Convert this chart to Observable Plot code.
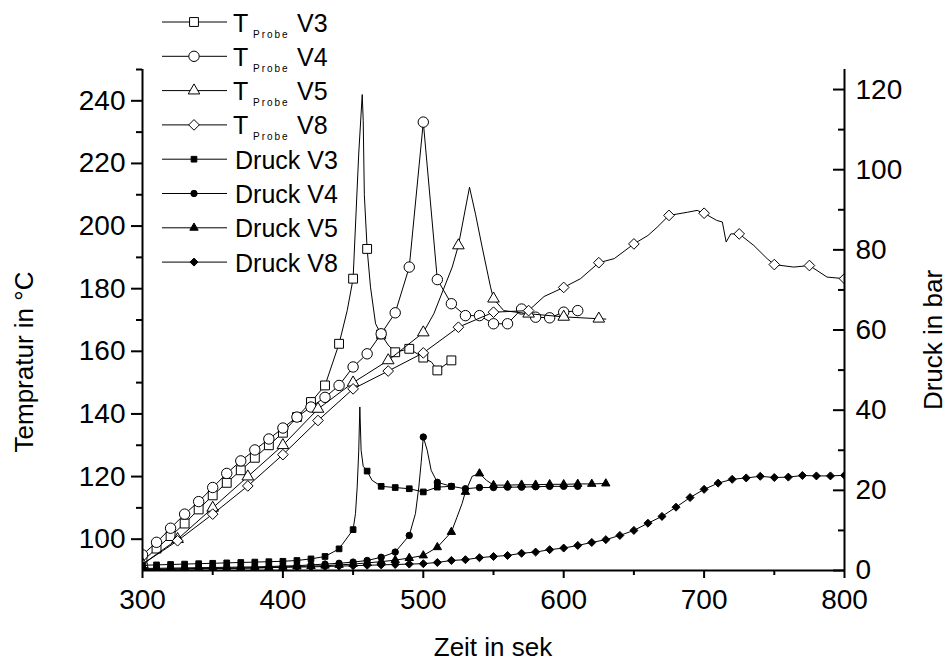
<!DOCTYPE html>
<html><head><meta charset="utf-8">
<script src="https://cdn.jsdelivr.net/npm/d3@7"></script>
<script src="https://cdn.jsdelivr.net/npm/@observablehq/plot@0.6"></script>
<style>
body{margin:0;background:#fff;}
#wrap{position:relative;width:950px;height:668px;font-family:"Liberation Sans",Arial,sans-serif;}
#wrap svg{position:absolute;left:0;top:0;}
</style></head><body><div id="wrap"></div>
<script>
// ---------- axes / tick data ----------
const T_MIN = 90, T_MAX = 250, P_MAX = 125;
const xMajor = [300, 400, 500, 600, 700, 800];
const xMinor = [350, 450, 550, 650, 750];
const tMajor = [100, 120, 140, 160, 180, 200, 220, 240];
const tMinor = [110, 130, 150, 170, 190, 210, 230, 250];
const pMajor = [0, 20, 40, 60, 80, 100, 120];
const pMinor = [10, 30, 50, 70, 90, 110];

// ---------- T Probe series (°C) ----------
const tV3Time = [300,310,320,330,340,350,360,370,380,390,400,410,420,430,440,450,460,470,480,490,500,510,520];
const tV3Val  = [93,97,101,105,109.5,114,118,122,126,130,134,139,143.8,149.1,162.4,183.2,192.7,165.4,159.7,160.8,158,153.9,157.1];
const tV3ExtraTime = [445.8,454,456.5,457.2,458,462.4,466,475,506,522.5];
const tV3ExtraVal  = [173,223,242,233.7,210,180.5,168.8,162,156.5,156.5];

const tV4Time = [300,310,320,330,340,350,360,370,380,390,400,410,420,430,440,450,460,470,480,490,500,510,520,530,540,550,560,570,580,590,600,610];
const tV4Val  = [95,99,103.5,108,112,116.5,121,125,128.5,132,135.5,139,142.2,145.3,149.1,155,159.2,165.6,172.3,186.9,233.2,182.9,175.2,171.4,171.4,168.8,168.8,173.5,170.9,170.7,172.5,173];
const tV4ExtraTime = [];
const tV4ExtraVal  = [];

const tV5Time = [300,325,350,375,400,425,450,475,500,525,550,575,600,625];
const tV5Val  = [92,100,110,120,130,141.6,150,157.1,166,193.8,176.8,172,171,170.4];
const tV5ExtraTime = [507.5,520.6,532.9,537.2,541.9,547.9,557.3,630];
const tV5ExtraVal  = [172,186.9,212.4,203.8,193.3,180.5,173,170.3];

const tV8Time = [300,325,350,375,400,425,450,475,500,525,550,575,600,625,650,675,700,725,750,775,800];
const tV8Val  = [92,99.5,108,117,127,137.9,148,153.7,159.5,167.7,172.5,173,180.4,188.3,194.3,203.4,204.1,197.5,187.7,187.4,183.2];
const tV8ExtraTime = [586,612,636,660,666.5,688,695,709,713,715.7,719,735.4,744.9,763.8,787.6];
const tV8ExtraVal  = [177.5,183.2,189.6,197,199.6,204.4,205,201.8,201.3,194.9,197.5,193.8,189.6,186.9,183.7];

// ---------- Druck series (bar) ----------
const pV3Time = [300,310,320,330,340,350,360,370,380,390,400,410,420,430,440,450,460,470,480,490,500,510,520];
const pV3Val  = [1.3,1.4,1.5,1.6,1.7,1.8,1.9,2.0,2.1,2.2,2.3,2.5,2.9,3.5,5.4,10.2,24.8,21,20.7,20.4,19.6,20.8,21];
const pV3ExtraTime = [451.7,452.9,454,454.8,455.7,457.2,463.5,522];
const pV3ExtraVal  = [14.2,20.8,29.6,40.8,30,26,22.5,21];

const pV4Time = [300,310,320,330,340,350,360,370,380,390,400,410,420,430,440,450,460,470,480,490,500,510,520,530,540,550,560,570,580,590,600,610];
const pV4Val  = [0.5,0.55,0.6,0.65,0.7,0.75,0.8,0.85,0.9,1.0,1.1,1.2,1.4,1.6,1.8,2.1,2.5,3.3,4.6,8.75,33.3,22,21,20.4,20.7,20.7,20.8,20.8,20.9,21,21,21];
const pV4ExtraTime = [494.4,496.8,498.5,502.8,505.6];
const pV4ExtraVal  = [14.2,20.8,27,30,25];

const pV5Time = [300,310,320,330,340,350,360,370,380,390,400,410,420,430,440,450,460,470,480,490,500,510,520,530,540,550,560,570,580,590,600,610,620,630];
const pV5Val  = [0.3,0.35,0.4,0.45,0.5,0.55,0.6,0.65,0.7,0.8,0.9,1.0,1.1,1.2,1.4,1.6,1.9,2.2,2.6,3.1,3.75,5.8,9.6,19.6,24.2,21.3,21.3,21.4,21.4,21.5,21.5,21.6,21.6,21.7];
const pV5ExtraTime = [524,527.6,534.8,545];
const pV5ExtraVal  = [13.3,16.7,23.5,22.5];

const pV8Time = [300,310,320,330,340,350,360,370,380,390,400,410,420,430,440,450,460,470,480,490,500,510,520,530,540,550,560,570,580,590,600,610,620,630,640,650,660,670,680,690,700,710,720,730,740,750,760,770,780,790,800];
const pV8Val  = [0.2,0.25,0.3,0.35,0.4,0.45,0.5,0.55,0.6,0.7,0.8,0.85,0.9,1.0,1.1,1.2,1.3,1.4,1.5,1.6,1.7,2.0,2.5,2.7,3.2,3.5,3.75,4.3,4.6,5.2,5.6,6.25,7.0,7.7,8.75,10,11.8,13.5,15.8,18.2,20.25,21.8,22.75,23.1,23.5,23.2,23.3,23.7,23.6,23.6,23.75];
const pV8ExtraTime = [];
const pV8ExtraVal  = [];

// ---------- legend labels ----------
const legendVersions = ["V3", "V4", "V5", "V8"];
const legendSub = "Probe";
const legendDruck = "Druck";

// ---------- build ----------
const K = (T_MAX - T_MIN) / P_MAX;           // °C per bar on the shared y scale
const toT = p => T_MIN + p * K;

function build(times, vals, exT, exV, conv) {
  const markers = times.map((t, i) => ({x: t, y: conv(vals[i])}));
  const extra = exT.map((t, i) => ({x: t, y: conv(exV[i])}));
  const line = markers.concat(extra).sort((a, b) => a.x - b.x);
  return {markers, line};
}
const id = v => v;
const series = [
  {...build(tV3Time, tV3Val, tV3ExtraTime, tV3ExtraVal, id), symbol: "square",   r: 5.0, fill: "white"},
  {...build(tV4Time, tV4Val, tV4ExtraTime, tV4ExtraVal, id), symbol: "circle",   r: 5.2, fill: "white"},
  {...build(tV5Time, tV5Val, tV5ExtraTime, tV5ExtraVal, id), symbol: "triangle", r: 4.3, fill: "white"},
  {...build(tV8Time, tV8Val, tV8ExtraTime, tV8ExtraVal, id), symbol: "diamond2", r: 4.8, fill: "white"},
  {...build(pV3Time, pV3Val, pV3ExtraTime, pV3ExtraVal, toT), symbol: "square",   r: 3.2, fill: "black"},
  {...build(pV4Time, pV4Val, pV4ExtraTime, pV4ExtraVal, toT), symbol: "circle",   r: 3.2, fill: "black"},
  {...build(pV5Time, pV5Val, pV5ExtraTime, pV5ExtraVal, toT), symbol: "triangle", r: 3.1, fill: "black"},
  {...build(pV8Time, pV8Val, pV8ExtraTime, pV8ExtraVal, toT), symbol: "diamond2", r: 3.6, fill: "black"}
];

const FONT = "Liberation Sans, Arial, sans-serif";
const seriesMarks = series.flatMap(s => [
  Plot.line(s.line, {x: "x", y: "y", stroke: "black", strokeWidth: 1, clip: true}),
  Plot.dot(s.markers, {x: "x", y: "y", symbol: () => s.symbol, r: s.r, fill: s.fill, stroke: "black", strokeWidth: 1, clip: true})
]);

const plot = Plot.plot({
  width: 950, height: 668,
  marginLeft: 142, marginRight: 106, marginTop: 69, marginBottom: 98,
  style: {fontFamily: FONT, color: "#000", background: "transparent", overflow: "visible"},
  x: {domain: [300, 800]},
  y: {domain: [T_MIN, T_MAX]},
  symbol: {type: "identity"},
  marks: [
    ...seriesMarks,
    Plot.ruleX([300, 800], {stroke: "black", strokeWidth: 2}),
    Plot.ruleY([T_MIN], {stroke: "black", strokeWidth: 2}),
    Plot.axisX({ticks: xMajor, tickSize: 8, tickPadding: 11, fontSize: 28, label: null, strokeWidth: 2, tickFormat: d => String(d)}),
    Plot.axisX({ticks: xMinor, tickSize: 5, tickFormat: () => "", label: null, strokeWidth: 2}),
    Plot.axisY({ticks: tMajor, tickSize: 11, tickPadding: 6, fontSize: 28, label: null, strokeWidth: 2, tickFormat: d => String(d)}),
    Plot.axisY({ticks: tMinor, tickSize: 6, tickFormat: () => "", label: null, strokeWidth: 2}),
    Plot.axisY({anchor: "right", ticks: pMajor.map(toT), tickSize: -12, tickFormat: () => "", label: null, strokeWidth: 2}),
    Plot.axisY({anchor: "right", ticks: pMinor.map(toT), tickSize: -7, tickFormat: () => "", label: null, strokeWidth: 2}),
    Plot.axisY({anchor: "right", ticks: pMajor.map(toT), tickSize: 0, tickPadding: 11, fontSize: 28, label: null,
                tickFormat: d => String(Math.round((d - T_MIN) / K))})
  ]
});

const wrap = document.getElementById("wrap");
wrap.appendChild(plot);

// ---------- overlay: legend + axis titles ----------
const ov = d3.select(wrap).append("svg")
  .attr("width", 950).attr("height", 668)
  .style("pointer-events", "none")
  .attr("font-family", FONT);

const symMap = {square: d3.symbolSquare, circle: d3.symbolCircle, triangle: d3.symbolTriangle, diamond2: d3.symbolDiamond2};
series.forEach((s, i) => {
  const cy = 22 + i * 34.3;
  ov.append("line").attr("x1", 162).attr("x2", 227).attr("y1", cy).attr("y2", cy)
    .attr("stroke", "black").attr("stroke-width", 1);
  ov.append("path").attr("d", d3.symbol(symMap[s.symbol], Math.PI * s.r * s.r)())
    .attr("transform", `translate(194,${cy})`)
    .attr("fill", s.fill).attr("stroke", "black").attr("stroke-width", 1);
  const v = legendVersions[i % 4];
  if (i < 4) {
    ov.append("text").attr("x", 233).attr("y", cy + 9.5).attr("font-size", 25).text("T");
    ov.append("text").attr("x", 253).attr("y", cy + 15.5).attr("font-size", 10)
      .attr("letter-spacing", 2).text(legendSub);
    ov.append("text").attr("x", 297).attr("y", cy + 9.5).attr("font-size", 25).text(v);
  } else {
    ov.append("text").attr("x", 235).attr("y", cy + 9.5).attr("font-size", 25).text(`${legendDruck} ${v}`);
  }
});

ov.append("text").attr("transform", "translate(33,362) rotate(-90)")
  .attr("text-anchor", "middle").attr("font-size", 26).text("Tempratur in °C");
ov.append("text").attr("transform", "translate(942,340) rotate(-90)")
  .attr("text-anchor", "middle").attr("font-size", 26).text("Druck in bar");
ov.append("text").attr("x", 493).attr("y", 656)
  .attr("text-anchor", "middle").attr("font-size", 26).text("Zeit in sek");
</script>
</body></html>
